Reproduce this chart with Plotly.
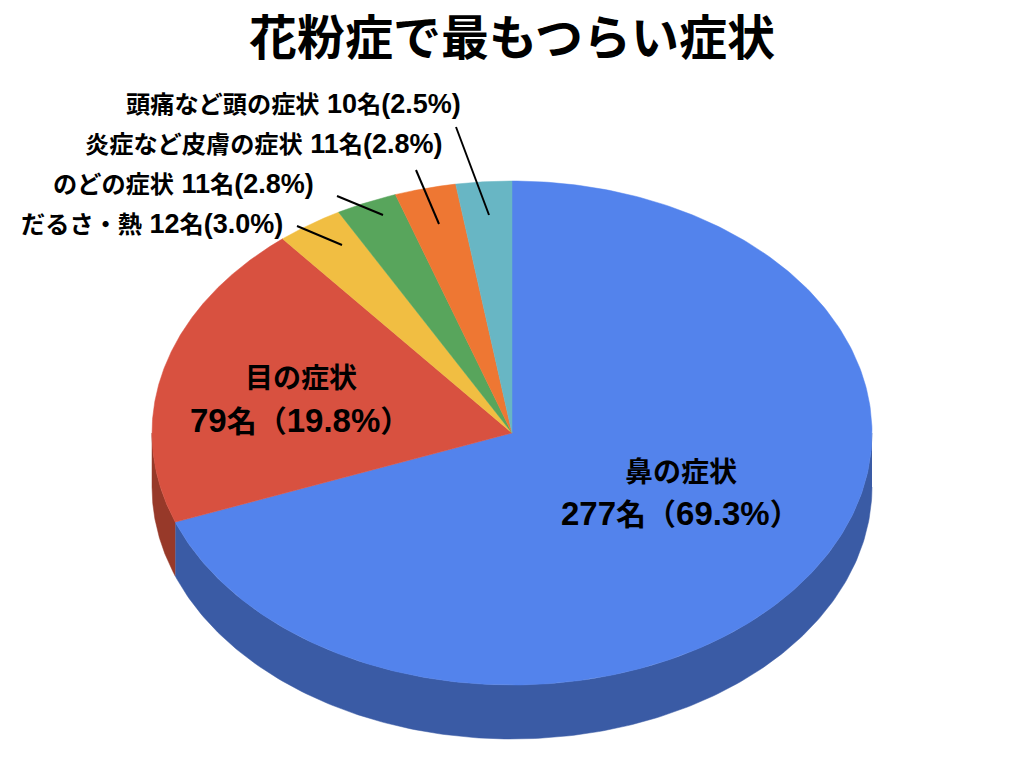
import numpy as np
import plotly.graph_objects as go

title = "花粉症で最もつらい症状"
counts = [277, 79, 12, 11, 11, 10]
names = ["鼻の症状", "目の症状", "だるさ・熱", "のどの症状", "炎症など皮膚の症状", "頭痛など頭の症状"]
percents = ["69.3", "19.8", "3.0", "2.8", "2.8", "2.5"]
top_colors = ["#5383EC", "#D85140", "#F1BE42", "#58A55C", "#EE7733", "#68B6C4"]
side_colors = ["#3A5BA5", "#973929", "#A8852E", "#3D7340", "#A65324", "#487F89"]

FONT = "Liberation Sans, Noto Sans CJK JP"

# the picture is laid out in pixels, y going down
cx, cy, rx, ry = 512, 433, 360, 252
depth = 54


def ell(t, dy=0):
    t = np.radians(t)
    return cx + rx * np.sin(t), cy - ry * np.cos(t) + dy


def wide(s, size):
    # digits in the original are wider than the kana next to them
    return f'<span style="font-size:{size}px">{s}</span>'


fig = go.Figure()

edges = np.concatenate(([0], np.cumsum(counts))) / sum(counts) * 360

# walls first, only the front half of the pie shows one
for i in range(len(counts)):
    a, b = max(edges[i], 90), min(edges[i + 1], 270)
    if a >= b:
        continue
    t = np.linspace(a, b, 200)
    x1, y1 = ell(t)
    x2, y2 = ell(t[::-1], depth)
    fig.add_trace(go.Scatter(x=np.r_[x1, x2], y=np.r_[y1, y2], mode="lines", fill="toself",
                             fillcolor=side_colors[i], line=dict(width=0.5, color=side_colors[i]),
                             hoverinfo="skip", showlegend=False))

for i in range(len(counts)):
    t = np.linspace(edges[i], edges[i + 1], 300)
    x1, y1 = ell(t)
    fig.add_trace(go.Scatter(x=np.r_[cx, x1, cx], y=np.r_[cy, y1, cy], mode="lines", fill="toself",
                             fillcolor=top_colors[i], line=dict(width=0.5, color=top_colors[i]),
                             hoverinfo="skip", showlegend=False))

# small slices: label text right aligned at the end of the line
small_right = [285, 316, 444, 463]
small_y = [224, 184, 144, 104]
for i, xr, yy in zip(range(2, 6), small_right, small_y):
    txt = names[i] + wide(f" {counts[i]}", 27) + "名" + wide(f"({percents[i]}%)", 27)
    fig.add_annotation(x=xr, y=yy, text=txt, showarrow=False,
                       xanchor="right", yanchor="middle",
                       font=dict(family=FONT, size=24.2, color="#000000", weight=700))

# big slices
fig.add_annotation(x=681, y=472, text=names[0], showarrow=False,
                   font=dict(family=FONT, size=28, color="#000000", weight=700))
fig.add_annotation(x=680, y=513, text=wide(counts[0], 33) + "名（" + wide(percents[0] + "%", 33) + "）", showarrow=False,
                   font=dict(family=FONT, size=30, color="#000000", weight=700))
fig.add_annotation(x=301, y=378, text=names[1], showarrow=False,
                   font=dict(family=FONT, size=28, color="#000000", weight=700))
fig.add_annotation(x=300, y=420, text=wide(counts[1], 33) + "名（" + wide(percents[1] + "%", 33) + "）", showarrow=False,
                   font=dict(family=FONT, size=30, color="#000000", weight=700))

# leader lines
leaders = [(297, 226, 342, 245), (337, 196, 383, 215), (416, 170, 439, 224), (456, 127, 489, 215)]
for x0, y0, x1, y1 in leaders:
    fig.add_shape(type="line", x0=x0, y0=y0, x1=x1, y1=y1, line=dict(color="#000000", width=2))

fig.update_layout(
    width=1024, height=768,
    margin=dict(l=0, r=0, t=0, b=0),
    paper_bgcolor="#ffffff", plot_bgcolor="#ffffff",
    title=dict(text=title, x=0.5, xanchor="center", y=1 - 38 / 768, yanchor="middle",
               font=dict(family=FONT, size=48, color="#000000", weight=700)),
    xaxis=dict(range=[0, 1024], visible=False, fixedrange=True),
    yaxis=dict(range=[768, 0], visible=False, fixedrange=True),
)

fig.write_html("out.html", post_script="document.body.style.margin='0';",
               config=dict(displayModeBar=False))
